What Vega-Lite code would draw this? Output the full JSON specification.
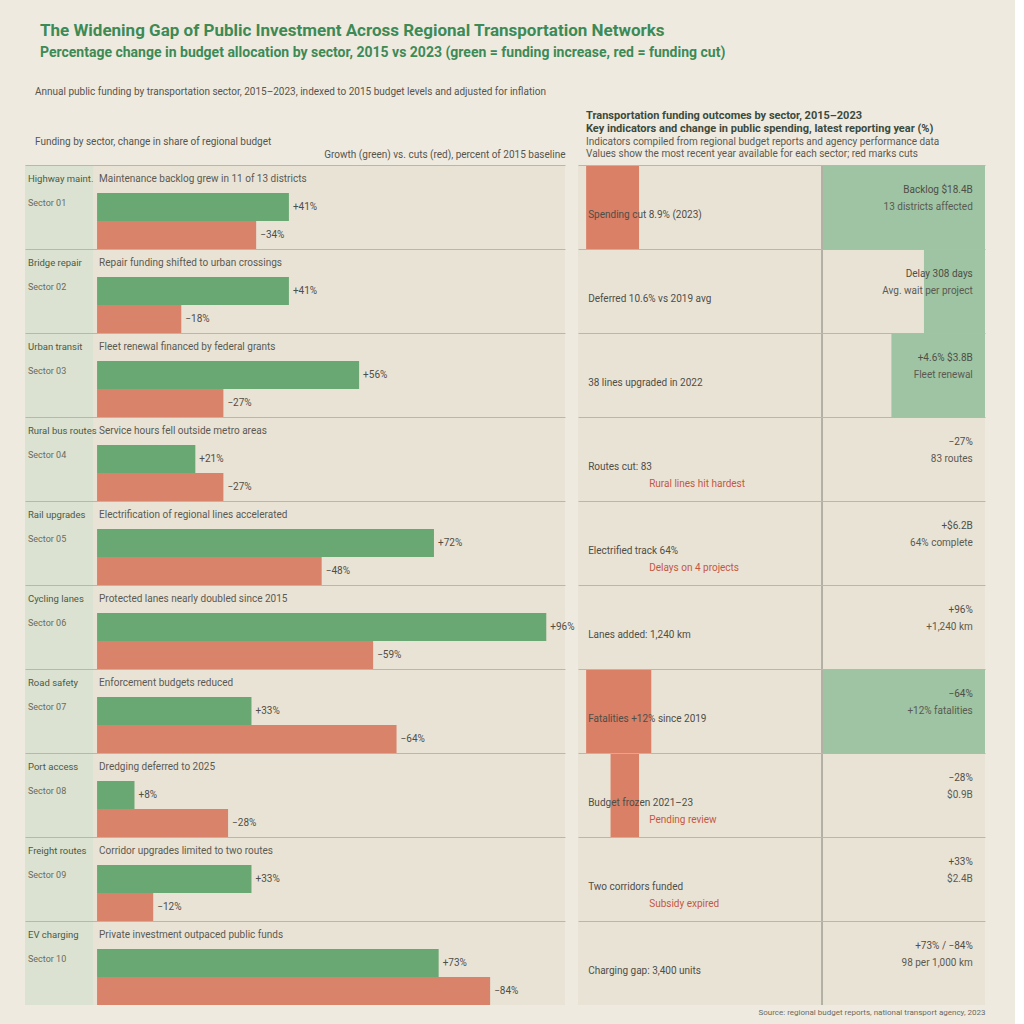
{
  "$schema": "https://vega.github.io/schema/vega-lite/v6.json",
  "background": "#efeae0",
  "padding": {"left": 25, "top": 22, "right": 30, "bottom": 8},
  "bounds": "flush",
  "title": {
    "text": "The Widening Gap of Public Investment Across Regional Transportation Networks",
    "subtitle": "Percentage change in budget allocation by sector, 2015 vs 2023 (green = funding increase, red = funding cut)",
    "anchor": "start",
    "dx": 15,
    "fontSize": 17,
    "fontWeight": "bold",
    "color": "#3d8a56",
    "subtitleFontSize": 14,
    "subtitleFontWeight": "bold",
    "subtitleColor": "#3d8a56",
    "subtitlePadding": 6,
    "offset": 26
  },
  "datasets": {
    "bars": [
      {"row": 1, "series": "Funding increase", "value": 41, "lab": "+41%"},
      {"row": 1, "series": "Funding cut", "value": 34, "lab": "−34%"},
      {"row": 2, "series": "Funding increase", "value": 41, "lab": "+41%"},
      {"row": 2, "series": "Funding cut", "value": 18, "lab": "−18%"},
      {"row": 3, "series": "Funding increase", "value": 56, "lab": "+56%"},
      {"row": 3, "series": "Funding cut", "value": 27, "lab": "−27%"},
      {"row": 4, "series": "Funding increase", "value": 21, "lab": "+21%"},
      {"row": 4, "series": "Funding cut", "value": 27, "lab": "−27%"},
      {"row": 5, "series": "Funding increase", "value": 72, "lab": "+72%"},
      {"row": 5, "series": "Funding cut", "value": 48, "lab": "−48%"},
      {"row": 6, "series": "Funding increase", "value": 96, "lab": "+96%"},
      {"row": 6, "series": "Funding cut", "value": 59, "lab": "−59%"},
      {"row": 7, "series": "Funding increase", "value": 33, "lab": "+33%"},
      {"row": 7, "series": "Funding cut", "value": 64, "lab": "−64%"},
      {"row": 8, "series": "Funding increase", "value": 8, "lab": "+8%"},
      {"row": 8, "series": "Funding cut", "value": 28, "lab": "−28%"},
      {"row": 9, "series": "Funding increase", "value": 33, "lab": "+33%"},
      {"row": 9, "series": "Funding cut", "value": 12, "lab": "−12%"},
      {"row": 10, "series": "Funding increase", "value": 73, "lab": "+73%"},
      {"row": 10, "series": "Funding cut", "value": 84, "lab": "−84%"}
    ],
    "rows": [
      {"row": 1, "label": "Highway maint.", "label2": "Sector 01", "note": "Maintenance backlog grew in 11 of 13 districts", "status": "Spending cut 8.9% (2023)", "status2": null, "value1": "Backlog $18.4B", "value2": "13 districts affected", "redFrom": 2, "red": 15, "green": 60},
      {"row": 2, "label": "Bridge repair", "label2": "Sector 02", "note": "Repair funding shifted to urban crossings", "status": "Deferred 10.6% vs 2019 avg", "status2": null, "value1": "Delay 308 days", "value2": "Avg. wait per project", "redFrom": null, "red": null, "green": 85},
      {"row": 3, "label": "Urban transit", "label2": "Sector 03", "note": "Fleet renewal financed by federal grants", "status": "38 lines upgraded in 2022", "status2": null, "value1": "+4.6%   $3.8B", "value2": "Fleet renewal", "redFrom": null, "red": null, "green": 77},
      {"row": 4, "label": "Rural bus routes", "label2": "Sector 04", "note": "Service hours fell outside metro areas", "status": "Routes cut: 83", "status2": "Rural lines hit hardest", "value1": "−27%", "value2": "83 routes", "redFrom": null, "red": null, "green": null},
      {"row": 5, "label": "Rail upgrades", "label2": "Sector 05", "note": "Electrification of regional lines accelerated", "status": "Electrified track 64%", "status2": "Delays on 4 projects", "value1": "+$6.2B", "value2": "64% complete", "redFrom": null, "red": null, "green": null},
      {"row": 6, "label": "Cycling lanes", "label2": "Sector 06", "note": "Protected lanes nearly doubled since 2015", "status": "Lanes added: 1,240 km", "status2": null, "value1": "+96%", "value2": "+1,240 km", "redFrom": null, "red": null, "green": null},
      {"row": 7, "label": "Road safety", "label2": "Sector 07", "note": "Enforcement budgets reduced", "status": "Fatalities +12% since 2019", "status2": null, "value1": "−64%", "value2": "+12% fatalities", "redFrom": 2, "red": 18, "green": 60},
      {"row": 8, "label": "Port access", "label2": "Sector 08", "note": "Dredging deferred to 2025", "status": "Budget frozen 2021–23", "status2": "Pending review", "value1": "−28%", "value2": "$0.9B", "redFrom": 8, "red": 15, "green": null},
      {"row": 9, "label": "Freight routes", "label2": "Sector 09", "note": "Corridor upgrades limited to two routes", "status": "Two corridors funded", "status2": "Subsidy expired", "value1": "+33%", "value2": "$2.4B", "redFrom": null, "red": null, "green": null},
      {"row": 10, "label": "EV charging", "label2": "Sector 10", "note": "Private investment outpaced public funds", "status": "Charging gap: 3,400 units", "status2": null, "value1": "+73% / −84%", "value2": "98 per 1,000 km", "redFrom": null, "red": null, "green": null}
    ]
  },
  "spacing": 13,
  "hconcat": [
    {
      "width": 540,
      "height": 840,
      "title": {
        "text": "Annual public funding by transportation sector, 2015–2023, indexed to 2015 budget levels and adjusted for inflation",
        "subtitle": "Funding by sector, change in share of regional budget",
        "anchor": "start",
        "dx": 10,
        "fontSize": 10,
        "fontWeight": "normal",
        "color": "#55554d",
        "subtitleFontSize": 10,
        "subtitleColor": "#55554d",
        "subtitlePadding": 40,
        "offset": 2
      },
      "layer": [
        {
          "data": {"name": "rows"},
          "mark": {"type": "rect", "color": "#dbe2d1"},
          "encoding": {
            "y": {"field": "row", "type": "ordinal", "title": null},
            "x": {"datum": -15.4, "type": "quantitative", "scale": {"domain": [-15.4, 100], "nice": false}, "axis": {"orient": "top", "labels": false, "ticks": false, "domain": false, "grid": false, "title": "Growth (green) vs. cuts (red), percent of 2015 baseline", "titleAnchor": "end", "titleFontSize": 10, "titleFontWeight": "normal", "titleColor": "#55554d", "titlePadding": 6}},
            "x2": {"datum": -0.8}
          }
        },
        {
          "data": {"name": "bars"},
          "mark": {"type": "bar"},
          "encoding": {
            "y": {"field": "row", "type": "ordinal", "title": null},
            "yOffset": {"field": "series", "scale": {"domain": ["note", "Funding increase", "Funding cut"]}},
            "x": {"field": "value", "type": "quantitative", "stack": null},
            "color": {"field": "series", "scale": {"domain": ["Funding increase", "Funding cut"], "range": ["#6aa873", "#d9836b"]}, "legend": null}
          }
        },
        {
          "data": {"name": "bars"},
          "mark": {"type": "text", "align": "left", "baseline": "middle", "dx": 4, "fontSize": 10, "color": "#4f4e47"},
          "encoding": {
            "y": {"field": "row", "type": "ordinal", "title": null},
            "yOffset": {"field": "series", "scale": {"domain": ["note", "Funding increase", "Funding cut"]}},
            "x": {"field": "value", "type": "quantitative", "stack": null},
            "text": {"field": "lab"}
          }
        },
        {
          "data": {"name": "rows"},
          "mark": {"type": "text", "align": "left", "baseline": "middle", "dx": 2, "fontSize": 10, "color": "#5b5a52"},
          "encoding": {
            "y": {"field": "row", "type": "ordinal", "title": null, "bandPosition": 0.17},
            "x": {"datum": 0},
            "text": {"field": "note"}
          }
        },
        {
          "data": {"name": "rows"},
          "mark": {"type": "text", "align": "left", "baseline": "middle", "dx": 3, "fontSize": 9.5, "color": "#4a5a45"},
          "encoding": {
            "y": {"field": "row", "type": "ordinal", "title": null, "bandPosition": 0.17},
            "x": {"datum": -15.4},
            "text": {"field": "label"}
          }
        },
        {
          "data": {"name": "rows"},
          "mark": {"type": "text", "align": "left", "baseline": "middle", "dx": 3, "fontSize": 9, "color": "#6b6a60"},
          "encoding": {
            "y": {"field": "row", "type": "ordinal", "title": null, "bandPosition": 0.45},
            "x": {"datum": -15.4},
            "text": {"field": "label2"}
          }
        }
      ]
    },
    {
      "width": 407,
      "height": 840,
      "title": {
        "text": ["Transportation funding outcomes by sector, 2015–2023", "Key indicators and change in public spending, latest reporting year (%)"],
        "subtitle": ["Indicators compiled from regional budget reports and agency performance data", "Values show the most recent year available for each sector; red marks cuts"],
        "anchor": "start",
        "dx": 8,
        "fontSize": 11,
        "fontWeight": "bold",
        "color": "#3b4a3c",
        "subtitleFontSize": 10,
        "subtitleColor": "#5a5a52",
        "subtitlePadding": 3,
        "offset": 6
      },
      "layer": [
        {
          "data": {"name": "rows"},
          "transform": [{"filter": "datum.red != null"}],
          "mark": {"type": "rect", "color": "#d98066"},
          "encoding": {
            "y": {"field": "row", "type": "ordinal", "title": null},
            "x": {"field": "redFrom", "type": "quantitative", "scale": {"domain": [0, 100], "nice": false}, "axis": {"orient": "bottom", "labels": false, "ticks": false, "domain": false, "grid": false, "title": "Source: regional budget reports, national transport agency, 2023", "titleAnchor": "end", "titleFontSize": 8, "titleFontWeight": "normal", "titleColor": "#6b6a60", "titlePadding": 3}},
            "x2": {"field": "red"}
          }
        },
        {
          "data": {"name": "rows"},
          "transform": [{"filter": "datum.green != null"}],
          "mark": {"type": "rect", "color": "#9ec4a3"},
          "encoding": {
            "y": {"field": "row", "type": "ordinal", "title": null},
            "x": {"field": "green", "type": "quantitative"},
            "x2": {"datum": 100}
          }
        },
        {
          "data": {"name": "rows"},
          "mark": {"type": "rule", "color": "#b3b0a4", "strokeWidth": 1},
          "encoding": {"x": {"datum": 60}}
        },
        {
          "data": {"name": "rows"},
          "mark": {"type": "text", "align": "left", "baseline": "middle", "dx": 2, "fontSize": 10, "color": "#4f4e47"},
          "encoding": {
            "y": {"field": "row", "type": "ordinal", "title": null, "bandPosition": 0.6},
            "x": {"datum": 2},
            "text": {"field": "status"}
          }
        },
        {
          "data": {"name": "rows"},
          "transform": [{"filter": "datum.status2 != null"}],
          "mark": {"type": "text", "align": "left", "baseline": "middle", "dx": 2, "fontSize": 10, "color": "#c4583f"},
          "encoding": {
            "y": {"field": "row", "type": "ordinal", "title": null, "bandPosition": 0.8},
            "x": {"datum": 17},
            "text": {"field": "status2"}
          }
        },
        {
          "data": {"name": "rows"},
          "mark": {"type": "text", "align": "right", "baseline": "middle", "fontSize": 10, "color": "#4f4e47"},
          "encoding": {
            "y": {"field": "row", "type": "ordinal", "title": null, "bandPosition": 0.3},
            "x": {"datum": 97},
            "text": {"field": "value1"}
          }
        },
        {
          "data": {"name": "rows"},
          "mark": {"type": "text", "align": "right", "baseline": "middle", "fontSize": 10, "color": "#5b5a52"},
          "encoding": {
            "y": {"field": "row", "type": "ordinal", "title": null, "bandPosition": 0.5},
            "x": {"datum": 97},
            "text": {"field": "value2"}
          }
        }
      ]
    }
  ],
  "resolve": {"scale": {"y": "shared"}},
  "config": {
    "font": "Liberation Sans Narrow, Roboto, sans-serif",
    "view": {"stroke": null, "fill": "#e9e3d6"},
    "scale": {"bandPaddingInner": 0, "bandPaddingOuter": 0},
    "axisY": {"labels": false, "ticks": false, "domain": false, "grid": true, "bandPosition": 0, "gridColor": "#b9b6ab", "gridWidth": 1}
  }
}
